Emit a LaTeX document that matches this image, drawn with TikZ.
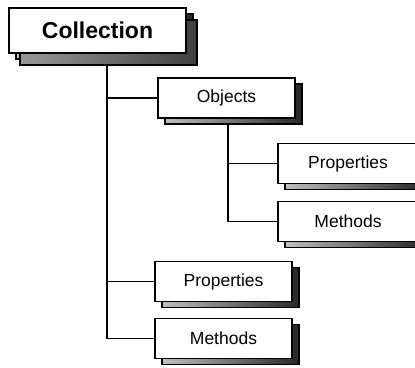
\documentclass[tikz,border=0pt]{standalone}
\usepackage{fontspec}
\setmainfont{Liberation Sans}
\usetikzlibrary{shadows}
\tikzset{
  box/.style={draw=black, line width=1.8pt, fill=white, inner sep=0pt,
    minimum width=137pt, minimum height=40pt,
    font=\fontsize{17.5}{20}\selectfont,
    general shadow={shadow xshift=7pt, shadow yshift=-6pt, draw=black,
      line width=1.4pt, left color=black!25, right color=black!85}},
  topbox/.style={box, minimum width=177pt, minimum height=45pt,
    font=\fontsize{23}{26}\selectfont\bfseries,
    general shadow={shadow xshift=11pt, shadow yshift=-12pt, draw=black,
      line width=1.6pt, left color=black!40, right color=black!75}},
  link/.style={line width=1.8pt}
}
\begin{document}
\begin{tikzpicture}[x=1pt, y=-1pt]
  \useasboundingbox (0,0) rectangle (415,367);
  \clip (0,0) rectangle (415,367);
  % the collection and what hangs below it
  \node[topbox] (coll) at (97.5,30.5) {Collection};
  \node[box] (obj) at (226.5,98) {Objects};
  \node[box, minimum width=140pt] (oprop) at (348,163.5) {Properties};
  \node[box, minimum width=140pt] (ometh) at (348,221.5) {Methods};
  \node[box] (prop) at (223.5,281.5) {Properties};
  \node[box] (meth) at (223.5,338.5) {Methods};
  % tree lines
  \coordinate (trunk) at (107,66);
  \coordinate (subtrunk) at (228,125);
  \draw[link] (trunk) |- (obj.west);
  \draw[link] (trunk) |- (prop.west);
  \draw[link] (trunk) |- (meth.west);
  \draw[link] (subtrunk) |- (oprop.west);
  \draw[link] (subtrunk) |- (ometh.west);
\end{tikzpicture}
\end{document}
